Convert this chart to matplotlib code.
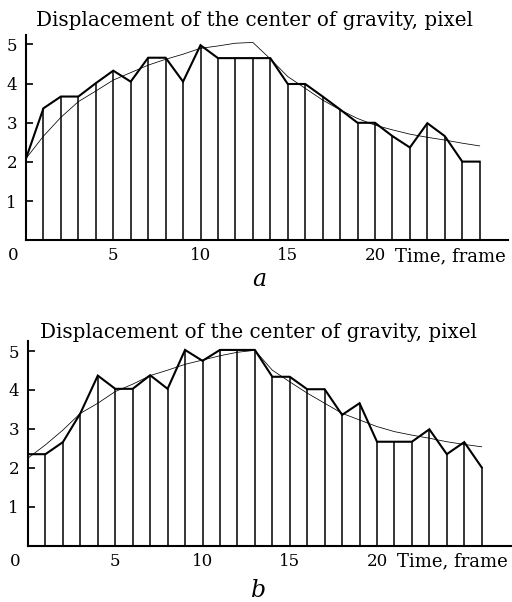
import matplotlib
matplotlib.use("Agg")
import matplotlib.pyplot as plt

# ---------------- data ----------------
frames = list(range(27))

disp_a = [2.09, 3.37, 3.67, 3.67, 4.01, 4.33, 4.05, 4.66, 4.66, 4.05,
          4.98, 4.65, 4.65, 4.65, 4.65, 3.99, 3.99, 3.67, 3.34, 3.00,
          3.00, 2.66, 2.37, 2.99, 2.66, 2.01, 2.01]
fit_a = [2.09, 2.66, 3.14, 3.54, 3.81, 4.09, 4.28, 4.47, 4.62, 4.75,
         4.90, 4.96, 5.03, 5.05, 4.63, 4.18, 3.88, 3.58, 3.33, 3.11,
         2.94, 2.82, 2.71, 2.63, 2.56, 2.48, 2.41]

disp_b = [2.35, 2.35, 2.66, 3.40, 4.37, 4.03, 4.03, 4.38, 4.03, 5.03,
          4.75, 5.03, 5.03, 5.03, 4.34, 4.34, 4.02, 4.02, 3.36, 3.66,
          2.67, 2.67, 2.67, 2.99, 2.35, 2.66, 2.01]
fit_b = [2.25, 2.59, 2.97, 3.40, 3.66, 3.96, 4.15, 4.37, 4.51, 4.66,
         4.77, 4.88, 4.97, 5.02, 4.51, 4.21, 3.92, 3.66, 3.40, 3.23,
         3.06, 2.93, 2.84, 2.76, 2.67, 2.60, 2.54]

yticks = [1, 2, 3, 4, 5]
xticks = [5, 10, 15, 20]
xtick_labels = ["5", "10", "15", "20"]

title = "Displacement of the center of gravity, pixel"
xlabel = "Time, frame"
panel_labels = ["a", "b"]

# ---------------- figure ----------------
W, H = 512, 602
fig = plt.figure(figsize=(W / 100, H / 100), dpi=100)
plt.rcParams["font.family"] = ["DejaVu Serif"]
FS = 12

panels = [
    dict(disp=disp_a, fit=fit_a, left=26, bottom=240.4, right=508, top=35,
         fpx=17.45, upx=39.2, title_base=26.5, title_x=255,
         lab_base=286.5, lab_x=259),
    dict(disp=disp_b, fit=fit_b, left=28, bottom=545.6, right=511, top=340.7,
         fpx=17.45, upx=38.9, title_base=338.0, title_x=259,
         lab_base=597.0, lab_x=259),
]

for p, lab in zip(panels, panel_labels):
    ax = fig.add_axes([p["left"] / W, 1 - p["bottom"] / H,
                       (p["right"] - p["left"]) / W,
                       (p["bottom"] - p["top"]) / H])
    ax.set_xlim(0, (p["right"] - p["left"]) / p["fpx"])
    ax.set_ylim(0, (p["bottom"] - p["top"]) / p["upx"])
    ax.vlines(frames, 0, p["disp"], color="black", lw=1.1)
    ax.plot(frames, p["disp"], color="black", lw=1.5, solid_joinstyle="miter")
    ax.plot(frames, p["fit"], color="black", lw=0.55)
    for s in ["top", "right"]:
        ax.spines[s].set_visible(False)
    for s in ["left", "bottom"]:
        ax.spines[s].set_linewidth(1.5)
    ax.set_yticks(yticks)
    ax.set_yticklabels([str(v) for v in yticks])
    ax.set_xticks(xticks)
    ax.set_xticklabels(xtick_labels)
    ax.tick_params(axis="y", direction="in", length=5, width=1.2, pad=6.5,
                   labelsize=FS)
    ax.tick_params(axis="x", length=0, pad=5, labelsize=FS)
    ax.annotate("0", xy=(0, 0), xycoords="data", xytext=(-9.4, -5),
                textcoords="offset points", ha="center", va="top",
                fontsize=FS)
    ax.annotate(xlabel, xy=(xticks[-1], 0), xycoords="data",
                xytext=(14.5, -5), textcoords="offset points",
                ha="left", va="top", fontsize=13)
    fig.text(p["title_x"] / W, 1 - p["title_base"] / H,
             title, ha="center", va="baseline", fontsize=14.3)
    fig.text(p["lab_x"] / W, 1 - p["lab_base"] / H, lab, ha="center",
             va="baseline", fontsize=17, style="italic")

fig.savefig("out.png", dpi=100)
